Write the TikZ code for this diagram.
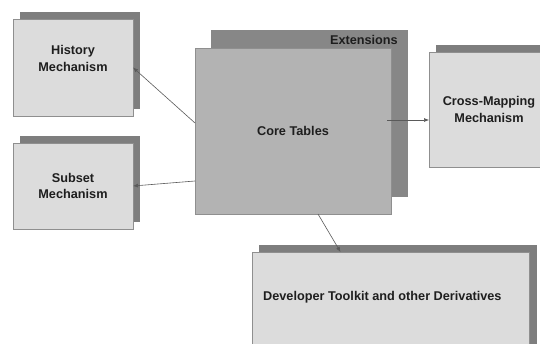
\documentclass[tikz,border=0pt]{standalone}
\usepackage{fontspec}
\setmainfont{Liberation Sans}
\usetikzlibrary{arrows.meta,calc}
\definecolor{frontfill}{HTML}{DCDCDC}
\definecolor{shadowfill}{HTML}{7E7E7E}
\definecolor{corefill}{HTML}{B3B3B3}
\definecolor{extfill}{HTML}{878787}
\definecolor{edgecol}{HTML}{8F8F8F}
\definecolor{textcol}{HTML}{1E1E1E}
\definecolor{linecol}{HTML}{5A5A5A}
\begin{document}
\begin{tikzpicture}[x=1pt,y=-1pt,
  boxbase/.style={anchor=north west,inner sep=0pt,outer sep=0pt,rectangle},
  shadowbox/.style={boxbase,fill=shadowfill,draw=none},
  frontbox/.style={boxbase,fill=frontfill,draw=edgecol,line width=0.8pt,
     font=\fontsize{12.7}{16.5}\selectfont\bfseries,text=textcol,align=center},
  corebox/.style={frontbox,fill=corefill},
  extbox/.style={boxbase,fill=extfill,draw=none},
  lbl/.style={font=\fontsize{12.7}{16.5}\selectfont\bfseries,text=textcol,inner sep=0pt},
  conn/.style={draw=linecol,line width=0.6pt,-{Latex[length=5pt,width=4pt]}}]
\useasboundingbox[fill=white] (0,0) rectangle (540,343);
% History
\node[shadowbox,minimum width=120pt,minimum height=97pt] (histsh) at (20,12) {};
\node[frontbox,minimum width=120pt,minimum height=97pt] (hist) at (13,19) {History\\Mechanism\\[2pt]};
% Subset
\node[shadowbox,minimum width=120pt,minimum height=86pt] (subsh) at (20,136) {};
\node[frontbox,minimum width=120pt,minimum height=86pt] (sub) at (13,143) {Subset\\Mechanism};
% Core
\node[extbox,minimum width=197pt,minimum height=167pt] (ext) at (211,30) {};
\node[lbl,anchor=east] (extlbl) at (398,40) {Extensions};
\node[corebox,minimum width=196pt,minimum height=166pt] (core) at (195,48) {Core Tables};
% Cross-Mapping
\node[shadowbox,minimum width=120pt,minimum height=115pt] (crosssh) at (436,45) {};
\node[frontbox,minimum width=120pt,minimum height=115pt] (cross) at (429,52) {Cross-Mapping\\Mechanism};
% Developer
\node[shadowbox,minimum width=278pt,minimum height=110pt] (devsh) at (259,245) {};
\node[frontbox,minimum width=277pt,minimum height=110pt] (dev) at (252,252) {};
\node[lbl,anchor=west] (devlbl) at (263,297) {Developer Toolkit and other Derivatives};
% Connectors
\draw[conn] ([yshift=8pt]core.west) -- (hist.east);
\draw[conn] ([yshift=-50pt]core.west) -- (sub.east);
\draw[conn] ([xshift=-4pt,yshift=11pt]core.east) -- ([yshift=-10.5pt]cross.west);
\draw[conn] ([xshift=25pt]core.south) -- ([xshift=-50pt]dev.north);
\end{tikzpicture}
\end{document}
